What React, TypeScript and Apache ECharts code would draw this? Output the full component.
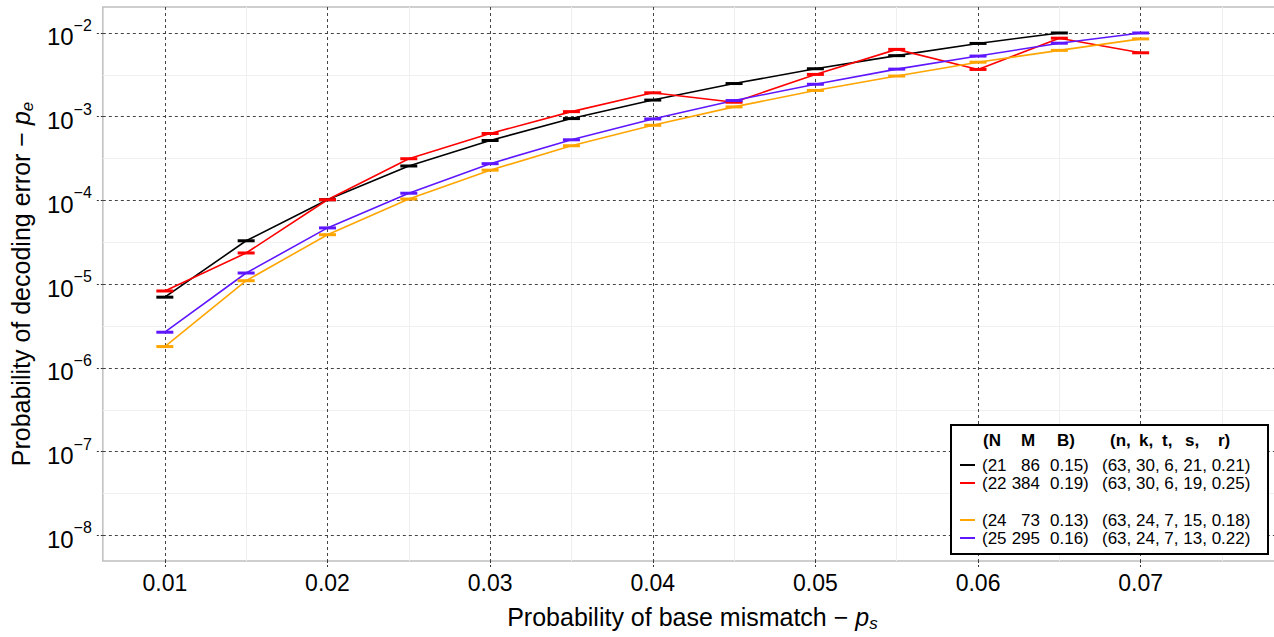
import React, { useEffect, useRef } from 'react';
import * as echarts from 'echarts';

// ---- data ----
const psValues = [0.01, 0.015, 0.02, 0.025, 0.03, 0.035, 0.04, 0.045, 0.05, 0.055, 0.06, 0.065, 0.07];
const pe21 = [7.0e-6, 3.3e-5, 1.02e-4, 2.58e-4, 5.2e-4, 9.5e-4, 1.58e-3, 2.49e-3, 3.74e-3, 5.36e-3, 7.5e-3, 1.0e-2, null];
const pe22 = [8.3e-6, 2.36e-5, 1.02e-4, 3.15e-4, 6.3e-4, 1.15e-3, 1.93e-3, 1.49e-3, 3.2e-3, 6.37e-3, 3.67e-3, 8.67e-3, 5.8e-3];
const pe24 = [1.8e-6, 1.1e-5, 3.9e-5, 1.04e-4, 2.3e-4, 4.5e-4, 7.9e-4, 1.31e-3, 2.06e-3, 3.06e-3, 4.48e-3, 6.2e-3, 8.5e-3];
const pe25 = [2.67e-6, 1.36e-5, 4.7e-5, 1.22e-4, 2.75e-4, 5.3e-4, 9.4e-4, 1.56e-3, 2.44e-3, 3.7e-3, 5.3e-3, 7.55e-3, 1.0e-2];

const xTickValues = [0.01, 0.02, 0.03, 0.04, 0.05, 0.06, 0.07];
const xMinorValues = [0.015, 0.025, 0.035, 0.045, 0.055, 0.065, 0.075];
const yTickExponents = [-8, -7, -6, -5, -4, -3, -2];
const yMinorExponents = [-7.5, -6.5, -5.5, -4.5, -3.5, -2.5];

const legendN = ['21', '22', '24', '25'];
const legendM = ['86', '384', '73', '295'];
const legendB = ['0.15', '0.19', '0.13', '0.16'];
const legendParams = ['(63, 30, 6, 21, 0.21)', '(63, 30, 6, 19, 0.25)', '(63, 24, 7, 15, 0.18)', '(63, 24, 7, 13, 0.22)'];
const seriesColors = ['#000000', '#FF0000', '#FFA500', '#5E17FF'];
const seriesValues = [pe21, pe22, pe24, pe25];

const FONT = '"Liberation Sans", Arial, Helvetica, sans-serif';

const X_MIN = 0.006188;
const X_MAX = 0.07869;
const Y_MIN = Math.pow(10, -8.3055);
const Y_MAX = Math.pow(10, -1.6898);

function buildOption() {
  const series = seriesValues.map((vals, si) => ({
    type: 'line',
    name: 'N' + legendN[si],
    xAxisIndex: 0,
    yAxisIndex: 0,
    data: psValues
      .map((x, i) => [x, vals[i]])
      .filter((p) => p[1] !== null),
    symbol: 'rect',
    symbolSize: [17, 3],
    showSymbol: true,
    lineStyle: { color: seriesColors[si], width: 1.6 },
    itemStyle: { color: seriesColors[si] },
    emphasis: { disabled: true },
    z: 3,
  }));

  const legendRowY = [465, 483, 520, 538];
  const graphic: any[] = [
    {
      type: 'rect',
      shape: { x: 951, y: 425, width: 317, height: 129 },
      style: { fill: '#ffffff', stroke: '#000000', lineWidth: 2 },
      z: 100,
    },
  ];
  const headerItems = [
    { t: '(N', x: 983, a: 'left' },
    { t: 'M', x: 1028, a: 'center' },
    { t: 'B)', x: 1057, a: 'left' },
    { t: '(n,', x: 1110, a: 'left' },
    { t: 'k,', x: 1139, a: 'left' },
    { t: 't,', x: 1162, a: 'left' },
    { t: 's,', x: 1185, a: 'left' },
    { t: 'r)', x: 1218, a: 'left' },
  ];
  headerItems.forEach((h) => {
    graphic.push({
      type: 'text',
      x: h.x,
      y: 440,
      z: 101,
      style: {
        text: h.t,
        fontSize: 17,
        fontWeight: 'bold',
        fontFamily: FONT,
        fill: '#000',
        align: h.a,
        verticalAlign: 'middle',
      },
    });
  });
  legendRowY.forEach((y, i) => {
    graphic.push({
      type: 'line',
      shape: { x1: 960, y1: y, x2: 975, y2: y },
      style: { stroke: seriesColors[i], lineWidth: 2 },
      z: 101,
    });
    const txt = (t: string, x: number, a: string) => ({
      type: 'text',
      x,
      y,
      z: 101,
      style: { text: t, fontSize: 17, fontFamily: FONT, fill: '#000', align: a, verticalAlign: 'middle' },
    });
    graphic.push(txt('(' + legendN[i], 982, 'left'));
    graphic.push(txt(legendM[i], 1040, 'right'));
    graphic.push(txt(legendB[i] + ')', 1050, 'left'));
    graphic.push(txt(legendParams[i], 1102, 'left'));
  });

  const majorDash = { color: '#444444', type: [3, 3], width: 1 };

  return {
    animation: false,
    backgroundColor: '#ffffff',
    grid: {
      left: 97,
      top: 7,
      width: 1185,
      height: 563,
      show: true,
      borderColor: '#BEBEBE',
      borderWidth: 1.5,
      backgroundColor: '#ffffff',
    },
    xAxis: [
      {
        type: 'value',
        min: X_MIN,
        max: X_MAX,
        position: 'bottom',
        axisLine: { show: false },
        axisTick: { show: true, customValues: xTickValues, length: 6, lineStyle: { color: '#333', type: [2, 2], width: 1 } },
        axisLabel: {
          customValues: xTickValues,
          formatter: (v: number) => v.toFixed(2),
          fontSize: 23,
          color: '#000',
          fontFamily: FONT,
          margin: 10,
        },
        splitLine: { show: true, lineStyle: majorDash },
        name: '{t|Probability of base mismatch \u2212 }{i|p}{sub|s}',
        nameLocation: 'middle',
        nameGap: 40,
        nameTextStyle: {
          fontFamily: FONT,
          color: '#000',
          fontSize: 25,
          rich: {
            t: { fontSize: 25, fontFamily: FONT, color: '#000' },
            i: { fontSize: 25, fontFamily: FONT, color: '#000', fontStyle: 'italic' },
            sub: { fontSize: 17, fontFamily: FONT, color: '#000', fontStyle: 'italic', padding: [14, 0, 0, 0] },
          },
        },
        z: 2,
      },
      {
        type: 'value',
        min: X_MIN,
        max: X_MAX,
        position: 'bottom',
        axisLine: { show: false },
        axisTick: { show: false, customValues: xMinorValues },
        axisLabel: { show: false, customValues: xMinorValues },
        splitLine: { show: true, lineStyle: { color: '#F0F0F0', width: 1 } },
        z: 1,
      },
    ],
    yAxis: [
      {
        type: 'log',
        logBase: 10,
        min: Y_MIN,
        max: Y_MAX,
        axisLine: { show: false },
        axisTick: {
          show: true,
          customValues: yTickExponents.map((e) => Math.pow(10, e)),
          length: 6,
          lineStyle: { color: '#333', type: [2, 2], width: 1 },
        },
        axisLabel: {
          customValues: yTickExponents.map((e) => Math.pow(10, e)),
          formatter: (v: number) => {
            const e = Math.round(Math.log10(v));
            return '{b|10}{s|\u2212' + String(-e) + '}';
          },
          margin: 11,
          rich: {
            b: { fontSize: 24, fontFamily: FONT, color: '#000', padding: [8, 0, 0, 0] },
            s: { fontSize: 16, fontFamily: FONT, color: '#000', padding: [0, 0, 15, 0] },
          },
        },
        splitLine: { show: true, lineStyle: majorDash },
        name: '{t|Probability of decoding error \u2212 }{i|p}{sub|e}',
        nameLocation: 'middle',
        nameGap: 60,
        nameTextStyle: {
          fontFamily: FONT,
          color: '#000',
          fontSize: 25,
          rich: {
            t: { fontSize: 25, fontFamily: FONT, color: '#000' },
            i: { fontSize: 25, fontFamily: FONT, color: '#000', fontStyle: 'italic' },
            sub: { fontSize: 17, fontFamily: FONT, color: '#000', fontStyle: 'italic', padding: [14, 0, 0, 0] },
          },
        },
        z: 2,
      },
      {
        type: 'log',
        logBase: 10,
        min: Y_MIN,
        max: Y_MAX,
        axisLine: { show: false },
        axisTick: { show: false, customValues: yMinorExponents.map((e) => Math.pow(10, e)) },
        axisLabel: { show: false, customValues: yMinorExponents.map((e) => Math.pow(10, e)) },
        splitLine: { show: true, lineStyle: { color: '#F0F0F0', width: 1 } },
        z: 1,
      },
    ],
    series,
    graphic,
  };
}

export default function App() {
  const ref = useRef<HTMLDivElement>(null);
  useEffect(() => {
    if (!ref.current) return;
    const chart = echarts.init(ref.current, undefined, { renderer: 'svg' });
    chart.setOption(buildOption() as any);
    return () => chart.dispose();
  }, []);
  return (
    <div style={{ position: 'fixed', left: 0, top: 0, width: 1274, height: 637, overflow: 'hidden', background: '#fff' }}>
      <div ref={ref} style={{ width: 1300, height: 637 }} />
    </div>
  );
}
